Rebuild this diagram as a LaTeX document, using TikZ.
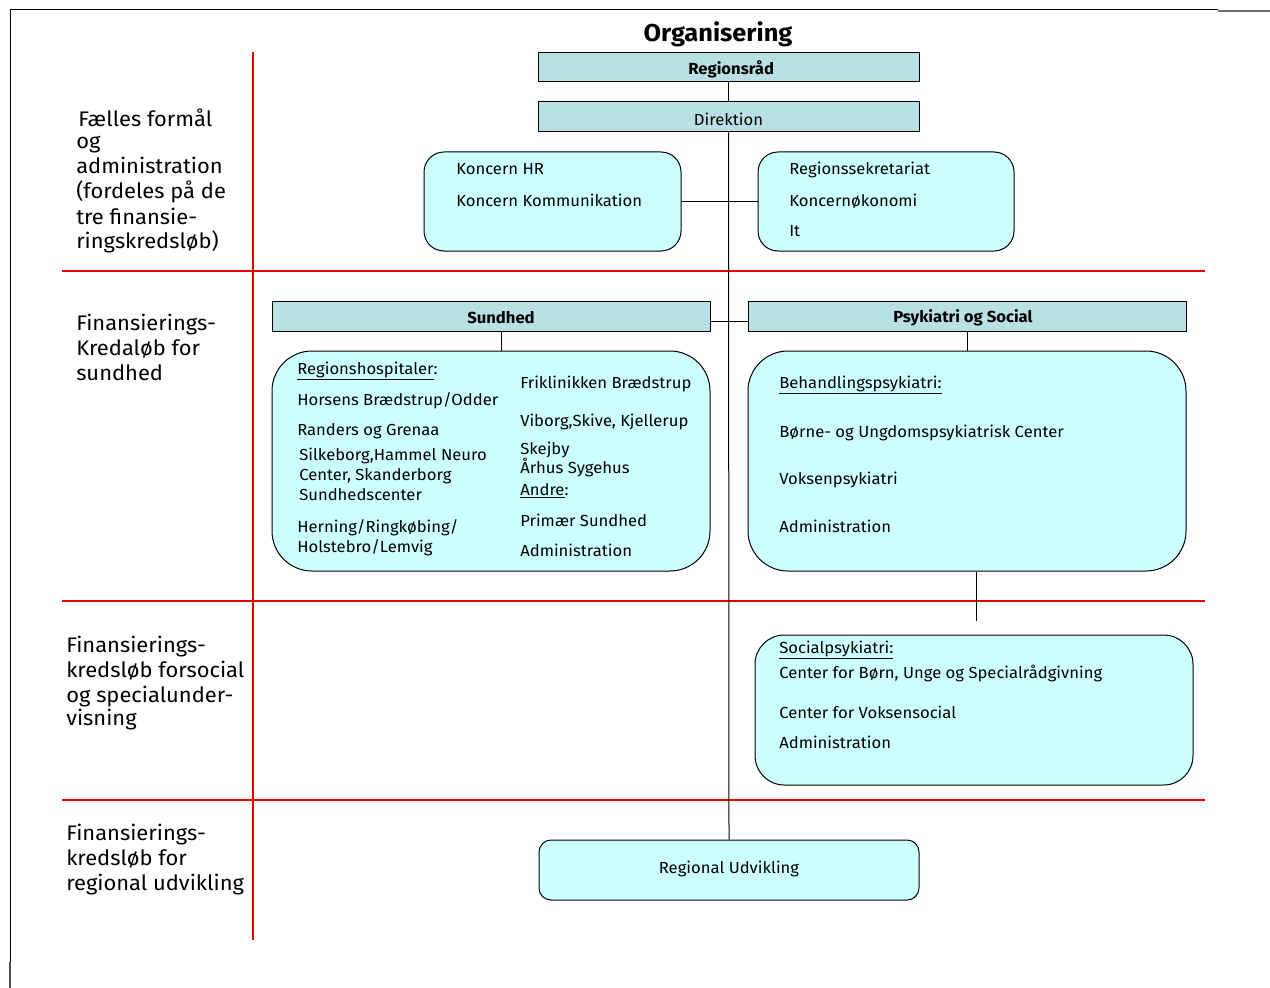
\documentclass[tikz,border=0pt]{standalone}
\usepackage{fontspec}
\setmainfont[FakeStretch=1.04]{Fira Sans}
\usetikzlibrary{fit}
\definecolor{hdrfill}{RGB}{185,224,228}
\definecolor{boxfill}{RGB}{204,255,255}
\definecolor{framegray}{RGB}{110,110,110}
\definecolor{sepred}{RGB}{235,0,0}
\begin{document}
\begin{tikzpicture}[x=0.75pt,y=-0.75pt,
  hdr/.style={draw=black, fill=hdrfill, line width=0.75pt, inner sep=0pt},
  cbox/.style={draw=black, fill=boxfill, line width=0.75pt, inner sep=0pt},
  ctxt/.style={inner sep=0pt, yshift=-1.5pt, font=\fontsize{12}{14}\selectfont},
  txt/.style={anchor=base west, inner sep=0pt, font=\fontsize{12}{14}\selectfont},
  side/.style={anchor=base west, inner sep=0pt, font=\fontsize{15.8}{18}\selectfont},
  conn/.style={draw=black, line width=0.75pt},
  sepline/.style={color=sepred, line width=1pt},
  frameline/.style={draw=black, line width=0.75pt}]
\useasboundingbox (0,0) rectangle (1270,988);

% frame
\draw[frameline] (10,988) -- (10,10) -- (1218,10);
\draw[framegray, line width=1pt] (1218,11) -- (1270,11);
\draw[black!70, line width=1.5pt] (10,962) -- (10,988);

% red separators
\draw[sepline] (253,52) -- (253,940);
\draw[sepline] (62,271) -- (1205,271);
\draw[sepline] (62,601) -- (1205,601);
\draw[sepline] (62,800) -- (1205,800);

% title
\node[inner sep=0pt, anchor=base, font=\fontsize{18.3}{21}\bfseries] (title) at (718,42) {Organisering};

% header boxes
\node[hdr, fit={(538,53) (919,82)}] (rr) {};
\node[ctxt] (rrt) at ([xshift=2pt]rr.center) {\textbf{Regionsråd}};
\node[hdr, fit={(538,102) (919,132)}] (dir) {};
\node[ctxt] (dirt) at (dir.center) {Direktion};

\node[cbox, rounded corners=15pt, fit={(424,152) (681,251)}] (kl) {};
\node[cbox, rounded corners=15pt, fit={(758,152) (1014,251)}] (kr) {};

\node[hdr, fit={(272,301) (710,331)}] (sund) {};
\node[ctxt] (sundt) at (sund.center -| 501,0) {\textbf{Sundhed}};
\node[hdr, fit={(748,301) (1186,331)}] (psyk) {};
\node[ctxt] (psykt) at ([xshift=-3pt]psyk.center) {\textbf{Psykiatri og Social}};

\node[cbox, rounded corners=30pt, fit={(272,351) (710,571)}] (sbox) {};
\node[cbox, rounded corners=30pt, fit={(748,351) (1186,571)}] (pbox) {};
\node[cbox, rounded corners=22pt, fit={(755,635) (1193,785)}] (socbox) {};
\node[cbox, rounded corners=9pt, fit={(539,840) (919,900)}] (ru) {};
\node[txt, anchor=base] (rut) at (729,873) {Regional Udvikling};

% connectors
\draw[conn] (rr.south) -- (dir.north);
\draw[conn] (dir.south) -- (ru.north);
\draw[conn] (kl.east) -- (kr.west);
\draw[conn] ([yshift=-3.75pt]sund.east) -- ([yshift=-3.75pt]psyk.west);
\draw[conn] (sund.south -| 501,0) -- (sbox.north -| 501,0);
\draw[conn] (psyk.south) -- (pbox.north);
\coordinate (pend) at (976,621);
\draw[conn] (pbox.south -| pend) -- (pend);

% texts of upper boxes
\node[txt] (k1) at (456,175) {Koncern HR};
\node[txt] (k2) at (456,206) {Koncern Kommunikation};
\node[txt] (r1) at (789,175) {Regionssekretariat};
\node[txt] (r2) at (789,206) {Koncernøkonomi};
\node[txt] (r3) at (789,236) {It};

% Sundhed contents
\node[txt] (s1) at (297,374) {\underline{Regionshospitaler}:};
\node[txt] (s2) at (297,405) {Horsens Brædstrup/Odder};
\node[txt] (s3) at (297,435) {Randers og Grenaa};
\node[txt] (s4) at (299,460) {Silkeborg,Hammel Neuro};
\node[txt] (s5) at (299,480) {Center, Skanderborg};
\node[txt] (s6) at (299,500) {Sundhedscenter};
\node[txt] (s7) at (297,532) {Herning/Ringkøbing/};
\node[txt] (s8) at (297,552) {Holstebro/Lemvig};
\node[txt] (t1) at (520,388) {Friklinikken Brædstrup};
\node[txt] (t2) at (520,426) {Viborg,Skive, Kjellerup};
\node[txt] (t3) at (520,454) {Skejby};
\node[txt] (t4) at (520,473) {Århus Sygehus};
\node[txt] (t5) at (520,495) {\underline{Andre}:};
\node[txt] (t6) at (520,526) {Primær Sundhed};
\node[txt] (t7) at (520,556) {Administration};

% Psykiatri contents
\node[txt] (p1) at (779,388) {\underline{Behandlingspsykiatri:}};
\node[txt] (p2) at (779,437) {Børne- og Ungdomspsykiatrisk Center};
\node[txt] (p3) at (779,484) {Voksenpsykiatri};
\node[txt] (p4) at (779,532) {Administration};

% Social contents
\node[txt] (q1) at (779,653) {\underline{Socialpsykiatri:}};
\node[txt] (q2) at (779,678) {Center for Børn, Unge og Specialrådgivning};
\node[txt] (q3) at (779,718) {Center for Voksensocial};
\node[txt] (q4) at (779,748) {Administration};

% side labels
\node[side] (a1) at (78,127) {Fælles formål};
\node[side] (a2) at (76,149) {og};
\node[side] (a3) at (76,174) {administration};
\node[side] (a4) at (76,199) {(fordeles på de};
\node[side] (a5) at (76,224) {tre finansie-};
\node[side] (a6) at (76,248) {ringskredsløb)};

\node[side] (b1) at (76,330) {Finansierings-};
\node[side] (b2) at (76,355) {Kredaløb for};
\node[side] (b3) at (76,380) {sundhed};

\node[side] (c1) at (66,652) {Finansierings-};
\node[side] (c2) at (66,677) {kredsløb forsocial};
\node[side] (c3) at (66,702) {og specialunder-};
\node[side] (c4) at (66,725) {visning};

\node[side] (d1) at (66,840) {Finansierings-};
\node[side] (d2) at (66,865) {kredsløb for};
\node[side] (d3) at (66,890) {regional udvikling};
\end{tikzpicture}
\end{document}
